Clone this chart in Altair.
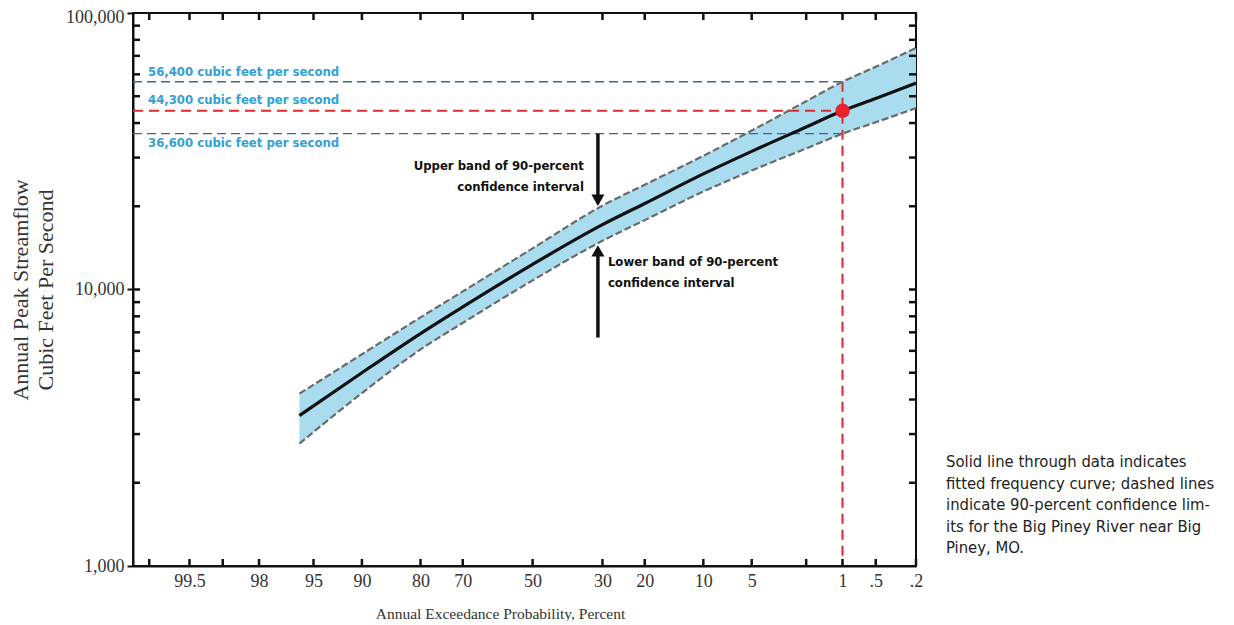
import altair as alt
import pandas as pd
from statistics import NormalDist

ND = NormalDist()


def zpos(p):
    """Normal-probability position of an annual exceedance probability (percent)."""
    return ND.inv_cdf(1 - p / 100.0)


# ---------------- data ----------------
probs = [96, 90, 80, 70, 50, 30, 20, 10, 5, 2, 1, 0.5, 0.2]
fitted = [3500, 5000, 6930, 8650, 12330, 17160, 20460, 26180, 31600, 38700, 44300, 49100, 55800]
upper = [4200, 5830, 7930, 9840, 14090, 20100, 23930, 30450, 37570, 47960, 56400, 63900, 74700]
lower = [2770, 4220, 6070, 7570, 10790, 15000, 17820, 22600, 26920, 32370, 36600, 40250, 45300]

tick_probs = [99.8, 99.5, 99, 98, 95, 90, 80, 70, 50, 30, 20, 10, 5, 2, 1, 0.5, 0.2]
label_probs = [99.5, 98, 95, 90, 80, 70, 50, 30, 20, 10, 5, 1, 0.5, 0.2]
label_text = ["99.5", "98", "95", "90", "80", "70", "50", "30", "20", "10", "5", "1", ".5", ".2"]

y_label_values = [1000, 10000, 100000]
y_tick_values = [2000, 3000, 4000, 5000, 6000, 7000, 8000, 9000, 10000,
                 20000, 30000, 40000, 50000, 60000, 70000, 80000, 90000]

ref_prob = 1
ref_values = [56400, 44300, 36600]
ref_labels = ["56,400 cubic feet per second", "44,300 cubic feet per second",
              "36,600 cubic feet per second"]
ref_kind = ["ci", "fit", "ci"]

arrow_prob = 31.2
upper_arrow = [36600, 21300, 20000]   # start, shaft end, tip
lower_arrow = [6700, 13600, 14500]
upper_note = "Upper band of 90-percent\nconfidence interval"
lower_note = "Lower band of 90-percent\nconfidence interval"
upper_note_value = 28000
lower_note_value = 12600

caption = ("Solid line through data indicates\nfitted frequency curve; dashed lines\n"
           "indicate 90-percent confidence lim-\nits for the Big Piney River near Big\nPiney, MO.")

# ---------------- frames ----------------
X_MIN = -3.0
X_MAX = zpos(0.2)
W, H = 783, 553

df = pd.DataFrame({"p": probs, "z": [zpos(p) for p in probs],
                   "fit": fitted, "upper": upper, "lower": lower})
edge_df = pd.concat([
    pd.DataFrame({"z": df["z"], "v": df["upper"], "edge": "upper"}),
    pd.DataFrame({"z": df["z"], "v": df["lower"], "edge": "lower"}),
])
ref_df = pd.DataFrame({"v": ref_values, "label": ref_labels, "kind": ref_kind,
                       "x0": X_MIN, "x1": zpos(ref_prob)})
xt_df = pd.DataFrame({"z": [zpos(p) for p in tick_probs]})
yt_df = pd.DataFrame({"v": y_tick_values})

SERIF = "Liberation Serif, Times New Roman, serif"
NARROW = "Liberation Sans Narrow, DejaVu Sans Condensed, Arial Narrow, sans-serif"

label_expr = "''"
for p, t in reversed(list(zip(label_probs, label_text))):
    label_expr = f"abs(datum.value - ({zpos(p):.6f})) < 0.001 ? '{t}' : " + label_expr

xscale = alt.Scale(domain=[X_MIN, X_MAX], nice=False, zero=False)
yscale = alt.Scale(type="log", domain=[1000, 100000], nice=False)

xaxis = alt.Axis(values=[zpos(p) for p in label_probs], labelExpr=label_expr,
                 ticks=False, grid=False, labelFlush=False, labelOverlap=False,
                 labelFont=SERIF, labelFontSize=18, labelColor="#333", labelPadding=6,
                 domainColor="#111", domainWidth=2,
                 title="Annual Exceedance Probability, Percent", titleFont=SERIF,
                 titleFontSize=15.5, titleFontWeight="normal", titleColor="#333",
                 titleX=367, titleY=47, titleBaseline="middle", titleAlign="center")
yaxis = alt.Axis(values=y_label_values, labelExpr="format(datum.value, ',')",
                 grid=False, tickSize=6, tickWidth=2, tickColor="#111",
                 labelFont=SERIF, labelFontSize=18, labelColor="#333", labelPadding=3,
                 labelOverlap=False,
                 labelOffset={"condition": {"test": "datum.value >= 100000", "value": 4}, "value": 0},
                 domainColor="#111", domainWidth=2,
                 title=["Annual Peak Streamflow", "Cubic Feet Per Second"],
                 titleFont=SERIF, titleFontSize=22, titleFontWeight="normal",
                 titleColor="#333", titleLineHeight=25, titlePadding=8)


def X(field):
    return alt.X(field, type="quantitative", scale=xscale, axis=xaxis)


def Y(field):
    return alt.Y(field, type="quantitative", scale=yscale, axis=yaxis)


band = alt.Chart(df).mark_area(color="#aadcf0", interpolate="monotone").encode(
    x=X("z"), y=Y("lower"), y2="upper")

edges = alt.Chart(edge_df).mark_line(color="#6a6a6a", strokeWidth=2.2, strokeDash=[7, 3],
                                     interpolate="monotone").encode(
    x=X("z"), y=Y("v"), detail="edge:N")

ref_ci = alt.Chart(ref_df).transform_filter("datum.kind == 'ci'").mark_rule(
    color="#3f6592", strokeWidth=1.3, strokeDash=[9, 5]).encode(x=X("x0"), x2="x1", y=Y("v"))
ref_fit = alt.Chart(ref_df).transform_filter("datum.kind == 'fit'").mark_rule(
    color="#e0282e", strokeWidth=2, strokeDash=[10, 6]).encode(x=X("x0"), x2="x1", y=Y("v"))

vline_df = pd.DataFrame({"z": [zpos(ref_prob)], "top": [ref_values[0]], "bottom": [1000]})
ref_v = alt.Chart(vline_df).mark_rule(color="#e0282e", strokeWidth=2, strokeDash=[10, 6]).encode(
    x=X("z"), y=Y("top"), y2="bottom")

fit_line = alt.Chart(df).mark_line(color="#111", strokeWidth=3.2, interpolate="monotone").encode(
    x=X("z"), y=Y("fit"))

dot_df = pd.DataFrame({"z": [zpos(ref_prob)], "v": [ref_values[1]]})
dot = alt.Chart(dot_df).mark_circle(size=210, color="#e8232b", opacity=1).encode(x=X("z"), y=Y("v"))

arrow_df = pd.DataFrame({"z": [zpos(arrow_prob)] * 2,
                         "start": [upper_arrow[0], lower_arrow[0]],
                         "end": [upper_arrow[1], lower_arrow[1]],
                         "tip": [upper_arrow[2], lower_arrow[2]],
                         "dir": ["down", "up"]})
shafts = alt.Chart(arrow_df).mark_rule(color="#111", strokeWidth=3.5).encode(
    x=X("z"), y=Y("start"), y2="end")
head_down = alt.Chart(arrow_df).transform_filter("datum.dir == 'down'").mark_point(
    shape="triangle-down", filled=True, size=170, color="#111", opacity=1, yOffset=-6).encode(
    x=X("z"), y=Y("tip"))
head_up = alt.Chart(arrow_df).transform_filter("datum.dir == 'up'").mark_point(
    shape="triangle-up", filled=True, size=170, color="#111", opacity=1, yOffset=6).encode(
    x=X("z"), y=Y("tip"))

notes_df = pd.DataFrame({"z": [zpos(arrow_prob)] * 2, "v": [upper_note_value, lower_note_value],
                         "t": [upper_note, lower_note]})
note_up = alt.Chart(notes_df.iloc[[0]]).mark_text(
    align="right", baseline="middle", dx=-14, font=NARROW, fontWeight="bold", fontSize=13,
    lineBreak="\n", lineHeight=21, color="#111").encode(x=X("z"), y=Y("v"), text="t:N")
note_lo = alt.Chart(notes_df.iloc[[1]]).mark_text(
    align="left", baseline="middle", dx=10, font=NARROW, fontWeight="bold", fontSize=13,
    lineBreak="\n", lineHeight=21, color="#111").encode(x=X("z"), y=Y("v"), text="t:N")

ref_texts = []
for i, dy in enumerate([-10, -11, 9]):
    ref_texts.append(alt.Chart(ref_df.iloc[[i]]).mark_text(
        align="left", baseline="middle", dx=15, dy=dy, font=NARROW, fontWeight="bold",
        fontSize=13, color="#34a0d4").encode(x=X("x0"), y=Y("v"), text="label:N"))

tick_style = dict(color="#111", strokeWidth=2.5)
top_ticks = alt.Chart(xt_df).mark_rule(**tick_style).encode(x=X("z"), y=alt.value(0), y2=alt.value(7))
bot_ticks = alt.Chart(xt_df).mark_rule(**tick_style).encode(x=X("z"), y=alt.value(H), y2=alt.value(H - 7))
left_ticks = alt.Chart(yt_df).mark_rule(**tick_style).encode(y=Y("v"), x=alt.value(0), x2=alt.value(7))
right_ticks = alt.Chart(yt_df).mark_rule(**tick_style).encode(y=Y("v"), x=alt.value(W), x2=alt.value(W - 7))

cap = alt.Chart(pd.DataFrame({"t": [caption]})).mark_text(
    align="left", baseline="top", font=NARROW, fontSize=16.5, lineBreak="\n", lineHeight=21.6,
    color="#222").encode(x=alt.value(813), y=alt.value(441), text="t:N")

chart = alt.layer(
    band, ref_ci, ref_fit, ref_v, edges, fit_line, dot, shafts, head_down, head_up,
    note_up, note_lo, *ref_texts, top_ticks, bot_ticks, left_ticks, right_ticks, cap
).properties(
    width=W, height=H,
    padding={"left": 125, "top": 5, "right": 300, "bottom": 55},
    autosize=alt.AutoSizeParams(type="none"),
    background="white",
).configure_view(stroke="#111", strokeWidth=2)

chart.save("out.html", embed_options={"renderer": "svg", "actions": False})
